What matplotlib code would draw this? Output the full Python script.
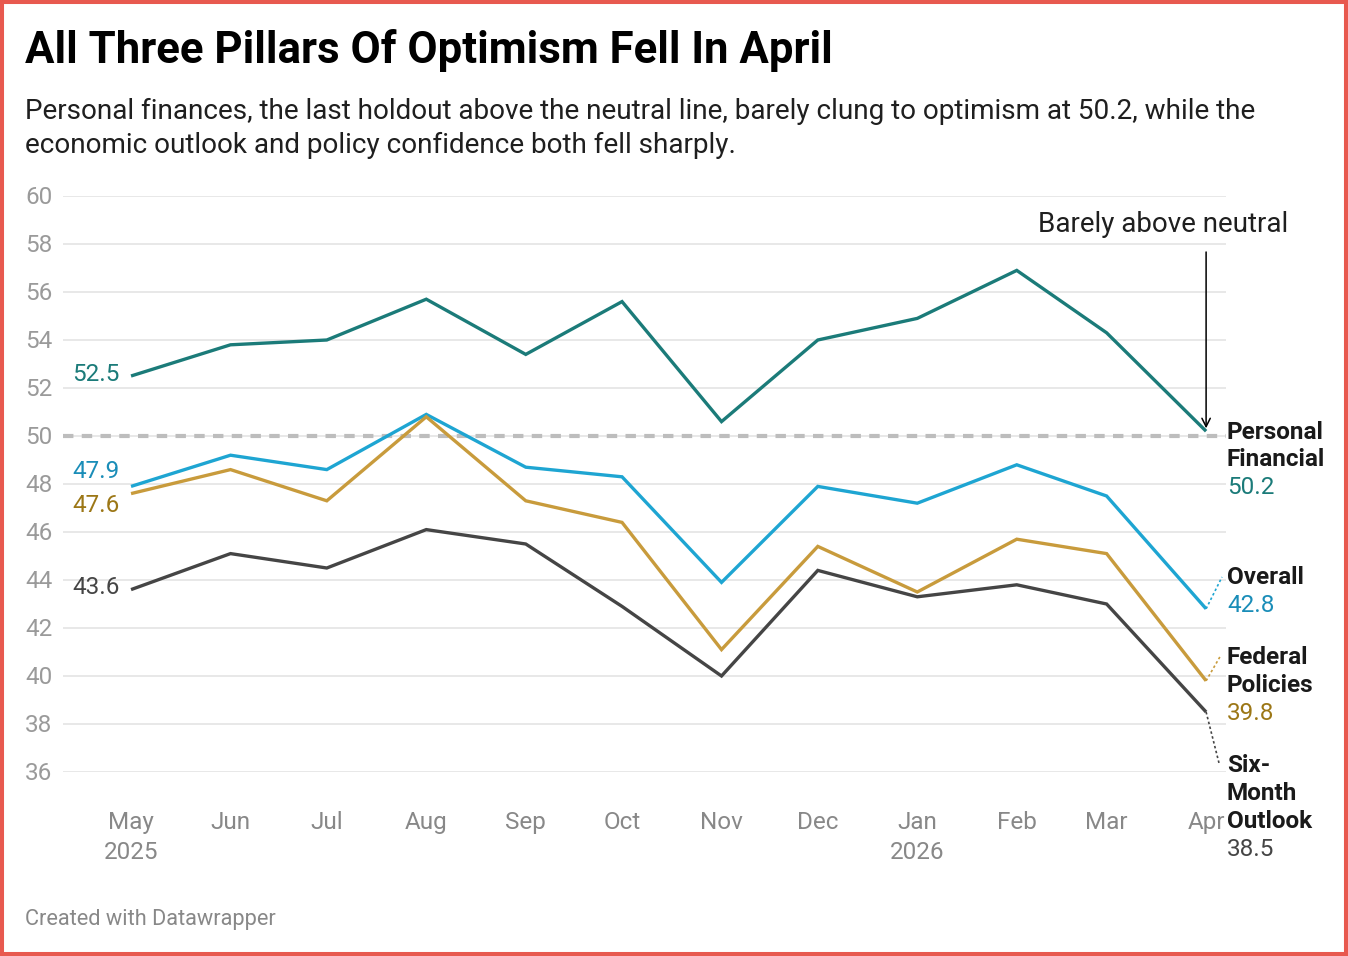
import matplotlib
matplotlib.use('Agg')
import matplotlib.pyplot as plt
import numpy as np
import matplotlib.dates as mdates
from matplotlib.patches import Rectangle
from matplotlib.transforms import blended_transform_factory

plt.rcParams['font.family'] = ['Roboto', 'DejaVu Sans']

# ---------------- data ----------------
months = ['2025-05-01', '2025-06-01', '2025-07-01', '2025-08-01', '2025-09-01', '2025-10-01',
          '2025-11-01', '2025-12-01', '2026-01-01', '2026-02-01', '2026-03-01', '2026-04-01']
month_labels = ['May\n2025', 'Jun', 'Jul', 'Aug', 'Sep', 'Oct', 'Nov', 'Dec', 'Jan\n2026', 'Feb', 'Mar', 'Apr']
personal = [52.5, 53.8, 54.0, 55.7, 53.4, 55.6, 50.6, 54.0, 54.9, 56.9, 54.3, 50.2]
overall = [47.9, 49.2, 48.6, 50.9, 48.7, 48.3, 43.9, 47.9, 47.2, 48.8, 47.5, 42.8]
federal = [47.6, 48.6, 47.3, 50.8, 47.3, 46.4, 41.1, 45.4, 43.5, 45.7, 45.1, 39.8]
sixmonth = [43.6, 45.1, 44.5, 46.1, 45.5, 42.9, 40.0, 44.4, 43.3, 43.8, 43.0, 38.5]
y_ticks = [36, 38, 40, 42, 44, 46, 48, 50, 52, 54, 56, 58, 60]
neutral = 50

title = 'All Three Pillars Of Optimism Fell In April'
subtitle = ['Personal finances, the last holdout above the neutral line, barely clung to optimism at 50.2, while the',
            'economic outlook and policy confidence both fell sharply.']
footer = 'Created with Datawrapper'
note = 'Barely above neutral'

# ---------------- figure ----------------
W, H = 1348, 956
fig = plt.figure(figsize=(W / 100, H / 100), dpi=100)
fig.patch.set_facecolor('white')


def fx(px):
    return px / W


def fy(py):
    return 1 - py / H


ax = fig.add_axes([fx(63), fy(772), (1226 - 63) / W, (772 - 196) / H])
x = mdates.date2num(np.array(months, dtype='datetime64[D]'))
ax.set_xlim(x[0] - 21.2, x[-1] + 6.2)
ax.set_ylim(36, 60)
for s in ax.spines.values():
    s.set_visible(False)
ax.set_yticks([])

# grid
for t in y_ticks:
    ax.axhline(t, color='#e2e2e2', lw=1.1, zorder=1)
ax.axhline(neutral, color='#bdbdbd', lw=3.0, dashes=(2.5, 2.0), zorder=2)

# y tick labels
bt = blended_transform_factory(fig.transFigure, ax.transData)
for t in y_ticks:
    ax.annotate(str(t), xy=(fx(25), t), xycoords=bt, xytext=(0, -1.2), textcoords='offset points',
                ha='left', va='center', fontsize=17.5, color='#9a9a9a')

# x ticks
ax.set_xticks(x)
ax.set_xticklabels(month_labels)
ax.tick_params(axis='x', length=0, pad=28, labelsize=17.5, labelcolor='#888888')
for lab in ax.get_xticklabels():
    lab.set_linespacing(1.4)

FS = 17.5
series = [
    ('Personal Financial', personal, '#1b7b79', '#1b7b79', ['Personal', 'Financial'], 1.0),
    ('Overall', overall, '#1ea5d2', '#1a8db8', ['Overall'], 11.0),
    ('Federal Policies', federal, '#c89b3c', '#9c7716', ['Federal', 'Policies'], -8.6),
    ('Six-Month Outlook', sixmonth, '#454545', '#454545', ['Six-', 'Month', 'Outlook'], 1.4),
]
for name, vals, col, tcol, _, dy in series:
    ax.plot(x, vals, color=col, lw=2.4, solid_joinstyle='miter', solid_capstyle='butt', zorder=3, clip_on=False)
    ax.annotate(f'{vals[0]:.1f}', xy=(x[0], vals[0]), xytext=(-8, dy), textcoords='offset points',
                ha='right', va='center', fontsize=FS, color=tcol)

fig.canvas.draw()
inv = ax.transData.inverted()


def px2data(px, py):
    return inv.transform((px, H - py))


# right-side labels (pixel layout)
label_y = [
    [432, 460, 488],
    [578, 606],
    [658, 686, 714],
    [766, 794, 822, 850],
]
for (name, vals, col, tcol, lines, _), ys in zip(series, label_y):
    for ln, yy in zip(lines, ys[:-1]):
        fig.text(fx(1227), fy(yy), ln, ha='left', va='center', fontsize=FS, fontweight='bold', color='#1a1a1a')
    fig.text(fx(1227), fy(ys[-1]), f'{vals[-1]:.1f}', ha='left', va='center', fontsize=FS, color=tcol)

# dotted connectors
conns = [
    (overall, '#1ea5d2', (1222, 577)),
    (federal, '#c89b3c', (1221, 655)),
    (sixmonth, '#454545', (1219, 763)),
]
for vals, col, end in conns:
    ex, ey = px2data(*end)
    ax.plot([x[-1], ex], [vals[-1], ey], color=col, lw=1.2, ls=(0, (1.5, 1.5)), clip_on=False, zorder=3)

# arrow annotation
_, ytop = px2data(1206, 252)
ax.annotate('', xy=(x[-1], personal[-1] + 0.12), xytext=(x[-1], ytop),
            arrowprops=dict(arrowstyle='->,head_length=0.6,head_width=0.3', color='black', lw=1.1,
                            shrinkA=0, shrinkB=0), zorder=5)
fig.text(fx(1288), fy(225), note, ha='right', va='center', fontsize=20, color='#1f1f1f')

# titles
fig.text(fx(25), fy(51), title, ha='left', va='center', fontsize=31.5, fontweight='bold', color='#000000')
fig.text(fx(25), fy(111), subtitle[0], ha='left', va='center', fontsize=20.1, color='#1f1f1f')
fig.text(fx(25), fy(145), subtitle[1], ha='left', va='center', fontsize=20.1, color='#1f1f1f')
fig.text(fx(25), fy(919), footer, ha='left', va='center', fontsize=15.7, color='#888888')

# red border
fig.patches.append(Rectangle((0, 0), 1, 1, transform=fig.transFigure, fill=False,
                             ec='#e8594f', lw=5.8, zorder=10))

fig.savefig('out.png', dpi=100, facecolor='white')
